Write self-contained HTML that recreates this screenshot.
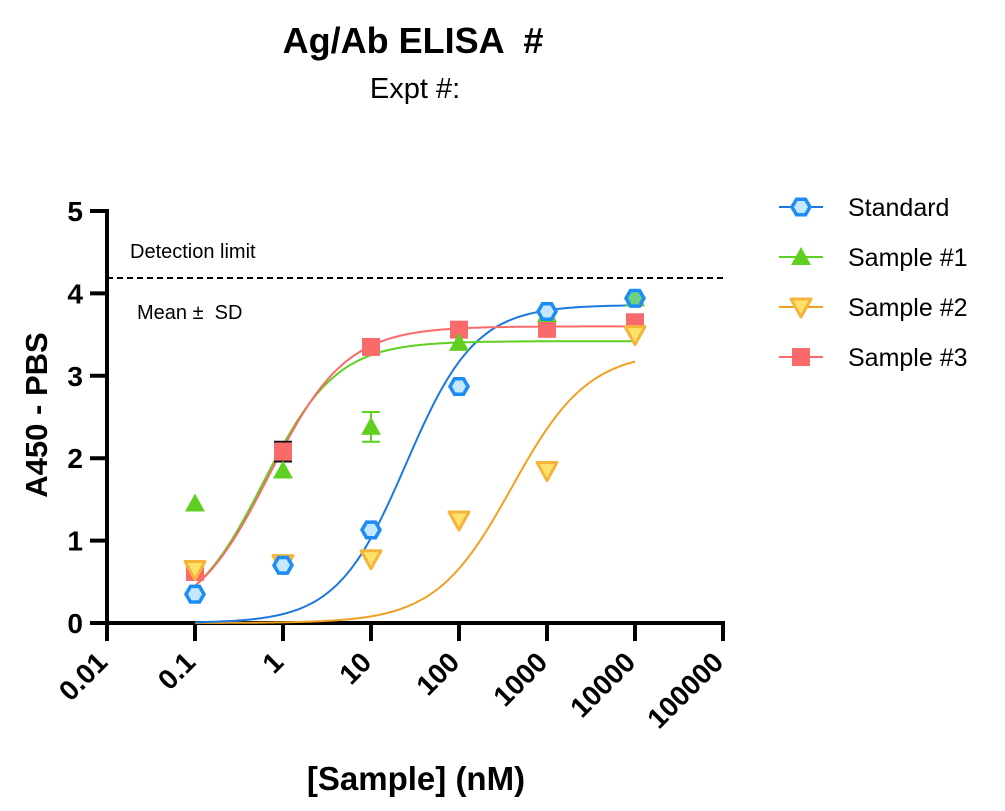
<!DOCTYPE html>
<html><head><meta charset="utf-8"><style>
html,body{margin:0;padding:0;background:#fff;}
svg{display:block;font-family:"Liberation Sans",Arial,sans-serif;}
text{white-space:pre;}
</style></head><body>
<svg id="s" width="1005" height="811" viewBox="0 0 1005 811" xmlns="http://www.w3.org/2000/svg">
<text x="413" y="53" font-size="36" font-weight="bold" text-anchor="middle">Ag/Ab ELISA  #</text>
<text x="415" y="98" font-size="29" text-anchor="middle">Expt #:</text>
<text transform="translate(47,415) rotate(-90)" font-size="31" font-weight="bold" text-anchor="middle">A450 - PBS</text>
<text x="416" y="790" font-size="33" font-weight="bold" text-anchor="middle">[Sample] (nM)</text>
<text x="130" y="258" font-size="20">Detection limit</text>
<text x="137" y="319" font-size="20">Mean ±  SD</text>
<line x1="107" y1="278" x2="723" y2="278" stroke="#000" stroke-width="2" stroke-dasharray="6,4"/>
<g id="g"></g>
</svg>
<script>
var NS="http://www.w3.org/2000/svg",g=document.getElementById('g');
function el(t,a,txt){var e=document.createElementNS(NS,t);for(var k in a)e.setAttribute(k,a[k]);if(txt!==undefined)e.textContent=txt;g.appendChild(e);return e;}
function X(x){return 107+(Math.log10(x)+2)*88;}
function Y(v){return 623-v*82.4;}
el('line',{x1:107,y1:209,x2:107,y2:625,stroke:'#000','stroke-width':4});
el('line',{x1:105,y1:623,x2:725,y2:623,stroke:'#000','stroke-width':4});
for(var i=0;i<=5;i++){el('line',{x1:90,y1:Y(i),x2:107,y2:Y(i),stroke:'#000','stroke-width':4});
 el('text',{x:83,y:Y(i)+10,'font-size':28,'font-weight':'bold','text-anchor':'end'},String(i));}
var labs=['0.01','0.1','1','10','100','1000','10000','100000'];
for(var i=0;i<8;i++){var x=107+i*88;el('line',{x1:x,y1:623,x2:x,y2:641,stroke:'#000','stroke-width':4});
 el('text',{transform:'translate('+(x+2)+',664) rotate(-45)','font-size':28,'font-weight':'bold','text-anchor':'end'},labs[i]);}
function curve(T,ec,h,c,w){var d='';for(var k=0;k<=200;k++){var lx=-1+k*5/200,x=Math.pow(10,lx),v=T/(1+Math.pow(ec/x,h));d+=(k?'L':'M')+X(x).toFixed(1)+','+Y(v).toFixed(1);}
 el('path',{d:d,fill:'none',stroke:c,'stroke-width':w||2});}
curve(3.3,400,1,'#f0a020');
curve(3.86,25,1.1,'#1a78e0');
curve(3.42,0.6,1.05,'#5fd020');
curve(3.6,0.7,1,'#fa6a6a');
function hex(cx,cy,r,st,f){var p=[];for(var k=0;k<6;k++){var a=Math.PI/3*k;p.push((cx+r*Math.cos(a)).toFixed(1)+','+(cy+r*Math.sin(a)).toFixed(1));}
 el('polygon',{points:p.join(' '),fill:f,stroke:st,'stroke-width':3.5});}
function tri(cx,cy,c){el('polygon',{points:cx+','+(cy-10)+' '+(cx-10)+','+(cy+8)+' '+(cx+10)+','+(cy+8),fill:c});}
function dtri(cx,cy){el('polygon',{points:(cx-10)+','+(cy-8)+' '+(cx+10)+','+(cy-8)+' '+cx+','+(cy+10),fill:'#fde26a',stroke:'#f5b53c','stroke-width':3,'stroke-linejoin':'round'});}
function sq(cx,cy){el('rect',{x:cx-9,y:cy-9,width:18,height:18,fill:'#fa6a6a'});}
function err(cx,v,e,c){el('line',{x1:cx,y1:Y(v-e),x2:cx,y2:Y(v+e),stroke:c,'stroke-width':2});
 el('line',{x1:cx-9,y1:Y(v-e),x2:cx+9,y2:Y(v-e),stroke:c,'stroke-width':2});el('line',{x1:cx-9,y1:Y(v+e),x2:cx+9,y2:Y(v+e),stroke:c,'stroke-width':2});}
var xs=[0.1,1,10,100,1000,10000];
var s3=[0.62,2.08,3.35,3.56,3.57,3.65],s2=[0.65,0.72,0.78,1.25,1.85,3.5],s1=[1.45,1.85,2.38,3.4,3.75,3.94],st=[0.35,0.7,1.13,2.87,3.78,3.94];
err(X(10),2.38,0.18,'#5fd020');
err(X(1),2.08,0.12,'#111');
err(X(1000),3.57,0.04,'#111');
for(var i=0;i<6;i++)sq(X(xs[i]),Y(s3[i]));
for(var i=0;i<6;i++)tri(X(xs[i]),Y(s1[i]),'#5fd020');
for(var i=0;i<6;i++)dtri(X(xs[i]),Y(s2[i]));
for(var i=0;i<6;i++)hex(X(xs[i]),Y(st[i]),9,'#1e8cf5',i==5?'#6fd080':'#c4e8ff');
var L=[['Standard','#1a78e0'],['Sample #1','#5fd020'],['Sample #2','#f0a020'],['Sample #3','#fa6a6a']];
for(var i=0;i<4;i++){var y=207+i*50;el('line',{x1:779,y1:y,x2:823,y2:y,stroke:L[i][1],'stroke-width':2});
 if(i==0)hex(801,y,9,'#1e8cf5','#c4e8ff');if(i==1)tri(801,y,'#5fd020');if(i==2)dtri(801,y);if(i==3)sq(801,y);
 el('text',{x:848,y:y+9,'font-size':25},L[i][0]);}
</script>
</body></html>
